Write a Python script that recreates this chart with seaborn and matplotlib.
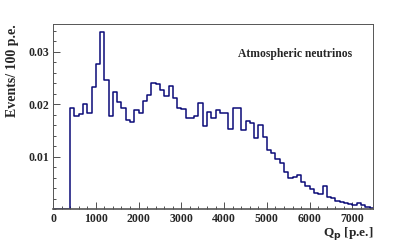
import numpy as np
import pandas as pd
import matplotlib
matplotlib.use("Agg")
import matplotlib.pyplot as plt
import seaborn as sns
from matplotlib.ticker import MultipleLocator

# charge bins, 100 p.e. wide, lower edges
bin_low = np.arange(0, 7500, 100)

# events per 100 p.e. (normalised)
events = [
    0, 0, 0, 0, 0.0192, 0.0178, 0.0182, 0.0201, 0.0183, 0.0232,
    0.0276, 0.0337, 0.0246, 0.0177, 0.0224, 0.0204, 0.0192, 0.0169, 0.0166, 0.0189,
    0.0183, 0.0207, 0.0217, 0.0240, 0.0239, 0.0228, 0.0215, 0.0235, 0.0212, 0.0192,
    0.0191, 0.0173, 0.0173, 0.0178, 0.0203, 0.0158, 0.0186, 0.0173, 0.0188, 0.0184,
    0.0183, 0.0153, 0.0193, 0.0192, 0.0151, 0.0167, 0.0164, 0.0136, 0.0161, 0.0138,
    0.0113, 0.0107, 0.0095, 0.0087, 0.0071, 0.0060, 0.0062, 0.0065, 0.0052, 0.0043,
    0.0039, 0.0030, 0.0028, 0.0044, 0.0022, 0.0021, 0.0016, 0.0014, 0.0011, 0.0010,
    0.0008, 0.0011, 0.0008, 0.0004, 0.0002,
]

x_ticks = [0, 1000, 2000, 3000, 4000, 5000, 6000, 7000]
y_ticks = [0.01, 0.02, 0.03]

df = pd.DataFrame({"qp": bin_low + 50, "w": events})

sns.set_style("ticks")
plt.rcParams["font.family"] = ["Liberation Serif", "DejaVu Serif"]
plt.rcParams["font.weight"] = "bold"

fig = plt.figure(figsize=(4.15, 2.46), dpi=100)
ax = fig.add_axes([53 / 415, 1 - 209 / 246, 320 / 415, 185 / 246])

sns.histplot(data=df, x="qp", weights="w", bins=75, binrange=(0, 7500),
             element="step", fill=False, color="#0a0a78", linewidth=1.1, ax=ax)

ax.set_xlim(0, 7480)
ax.set_ylim(0, 0.0353)
ax.set_xticks(x_ticks)
ax.set_xticklabels([str(t) for t in x_ticks])
ax.set_yticks(y_ticks)
ax.set_yticklabels(["0.01", "0.02", "0.03"])
ax.xaxis.set_minor_locator(MultipleLocator(200))
ax.yaxis.set_minor_locator(MultipleLocator(0.002))
ax.tick_params(which="both", direction="in", top=False, right=False,
               labelsize=8.5, width=0.6, color="#333333", pad=3)
ax.tick_params(which="major", length=5)
ax.tick_params(which="minor", length=2.5)
for sp in ax.spines.values():
    sp.set_visible(True)
    sp.set_linewidth(0.7)
    sp.set_color("#555555")
# the empty bins below 400 p.e. sit on the axis line
ax.spines["bottom"].set_linewidth(1.2)
ax.spines["bottom"].set_zorder(5)
for lab in ax.get_xticklabels() + ax.get_yticklabels():
    lab.set_fontweight("bold")

ax.set_xlabel(r"Q$_{\mathbf{p}}$ [p.e.]", fontsize=9.5, fontweight="bold")
ax.xaxis.set_label_coords(1.0, -0.13)
ax.xaxis.label.set_horizontalalignment("right")
ax.xaxis.label.set_verticalalignment("center")
ax.set_ylabel("Events/ 100 p.e.", fontsize=10, fontweight="bold")
ax.yaxis.set_label_coords(-0.127, 1.0)
ax.yaxis.label.set_verticalalignment("center")
ax.yaxis.label.set_horizontalalignment("right")

ax.text(0.578, 0.84, "Atmospheric neutrinos", transform=ax.transAxes,
        fontsize=8.4, fontweight="bold", ha="left", va="center")

fig.savefig("out.png", dpi=100)
